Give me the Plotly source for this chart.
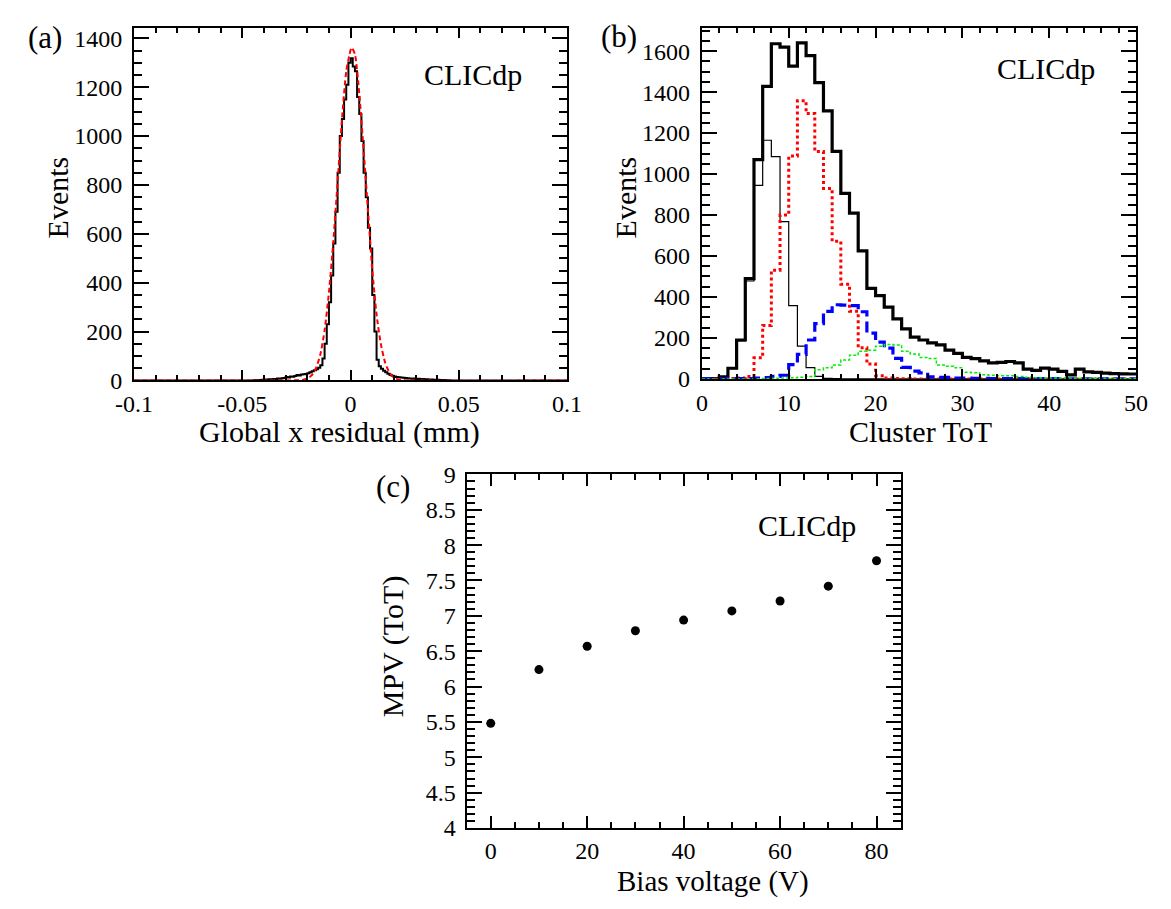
import plotly.graph_objects as go

W, H = 1171, 909
FONT = "Liberation Serif"

# ---------------- Panel (a): global x residual ----------------
res_bin_lo = -0.1
res_bin_w = 0.001
# bins k = -45 .. 45 (bin k covers [k, k+1) * 0.001 mm)
res_core = [
    1, 2, 1, 2, 3, 4, 3, 5, 4, 6,
    6, 8, 7, 9, 10, 14, 12, 16, 15, 18,
    22, 20, 24, 25, 27, 30, 34, 38, 42, 46,
    52, 62, 90, 150, 230, 320, 430, 560, 690, 850,
    1000, 1070, 1150, 1210, 1300, 1318, 1285, 1265, 1160, 1090,
    980, 850, 750, 625, 540, 350, 200, 85, 58, 48,
    40, 34, 28, 22, 19, 16, 14, 13, 12, 11,
    10, 9, 8, 7, 8, 6, 7, 5, 6, 4,
    5, 3, 4, 3, 2, 3, 2, 1, 2, 1,
    1,
]
res_counts = [0] * 55 + res_core + [0] * 54

fit_x = [-0.1, -0.024, -0.022, -0.020, -0.018, -0.016, -0.014, -0.012, -0.010,
         -0.008, -0.006, -0.004, -0.002, 0.0, 0.0005, 0.002, 0.004, 0.006, 0.008,
         0.010, 0.012, 0.014, 0.016, 0.018, 0.020, 0.022, 0.024, 0.1]
fit_y = [0, 1, 3, 8, 21, 50, 105, 205, 360,
         565, 810, 1065, 1265, 1352, 1362, 1335, 1175, 945, 700,
         455, 270, 148, 72, 32, 12, 4, 1, 0]

# ---------------- Panel (b): cluster ToT ----------------
tot_bin_lo = 0
tot_bin_w = 1
tot_all = [0, 2, 10, 52, 190, 490, 1070, 1428, 1636, 1620,
           1527, 1640, 1578, 1446, 1308, 1111, 906, 809, 625, 442,
           407, 350, 293, 244, 204, 190, 176, 166, 141, 125,
           105, 99, 88, 78, 81, 85, 78, 48, 42, 53,
           48, 37, 20, 48, 34, 32, 28, 26, 25, 24]
tot_size1 = [0, 0, 2, 50, 185, 478, 945, 1165, 1085, 768,
             358, 160, 55, 12, 3, 1, 0, 0, 0, 0,
             0, 0, 0, 0, 0, 0, 0, 0, 0, 0,
             0, 0, 0, 0, 0, 0, 0, 0, 0, 0,
             0, 0, 0, 0, 0, 0, 0, 0, 0, 0]
tot_size2 = [0, 0, 0, 2, 5, 12, 103, 261, 531, 800,
             1088, 1358, 1295, 1110, 930, 672, 462, 330, 152, 73,
             16, 5, 2, 1, 0, 0, 0, 0, 0, 0,
             0, 0, 0, 0, 0, 0, 0, 0, 0, 0,
             0, 0, 0, 0, 0, 0, 0, 0, 0, 0]
tot_size3 = [0, 0, 0, 0, 1, 2, 4, 6, 12, 18,
             70, 120, 190, 270, 330, 362, 360, 358, 328, 224,
             180, 150, 100, 56, 38, 30, 10, 8, 8, 4,
             4, 3, 3, 2, 2, 2, 1, 1, 1, 1,
             1, 0, 0, 0, 0, 0, 0, 0, 0, 0]
tot_size4 = [0, 0, 0, 0, 0, 0, 1, 2, 3, 4,
             6, 8, 12, 45, 55, 68, 92, 115, 135, 140,
             160, 168, 165, 135, 122, 105, 100, 68, 62, 55,
             32, 30, 20, 18, 15, 15, 12, 8, 6, 5,
             5, 4, 4, 3, 3, 3, 2, 2, 2, 2]

# ---------------- Panel (c): MPV vs bias ----------------
bias_v = [0, 10, 20, 30, 40, 50, 60, 70, 80]
mpv = [5.48, 6.24, 6.57, 6.79, 6.94, 7.07, 7.21, 7.42, 7.78]


def step_xy(lo, w, vals):
    xs = [lo + i * w for i in range(len(vals) + 1)]
    ys = list(vals) + [vals[-1]]
    return xs, ys


def px(x, y):
    return x / W, 1 - y / H


fig = go.Figure()

# (a)
xa, ya = step_xy(res_bin_lo, res_bin_w, res_counts)
fig.add_trace(go.Scatter(x=xa, y=ya, mode="lines", line=dict(color="black", width=2, shape="hv"),
                         xaxis="x", yaxis="y", showlegend=False))
fig.add_trace(go.Scatter(x=fit_x, y=fit_y, mode="lines",
                         line=dict(color="#ff0000", width=2, dash="5px,3px", shape="spline", smoothing=0.6),
                         xaxis="x", yaxis="y", showlegend=False))

# (b)
series_b = [
    (tot_all, dict(color="black", width=3.2)),
    (tot_size1, dict(color="black", width=1.2)),
    (tot_size2, dict(color="#ff0000", width=3, dash="3px,3px")),
    (tot_size3, dict(color="#0000ff", width=3.2, dash="11px,5px")),
    (tot_size4, dict(color="#00ee00", width=1.5, dash="3px,2px")),
]
for vals, ln in series_b:
    xb, yb = step_xy(tot_bin_lo, tot_bin_w, vals)
    ln = dict(ln, shape="hv")
    fig.add_trace(go.Scatter(x=xb, y=yb, mode="lines", line=ln, xaxis="x2", yaxis="y2", showlegend=False))

# (c)
fig.add_trace(go.Scatter(x=bias_v, y=mpv, mode="markers",
                         marker=dict(color="black", size=9, symbol="circle"),
                         xaxis="x3", yaxis="y3", showlegend=False))


def ax(domain, rng, tickvals, ticktext, minor_dtick, minor_tick0, ticklen, minorlen, anchor, standoff):
    return dict(
        domain=domain, range=rng, anchor=anchor,
        showline=True, linewidth=2, linecolor="black", mirror="allticks",
        ticks="inside", ticklen=ticklen, tickwidth=2, tickcolor="black",
        tickmode="array", tickvals=tickvals, ticktext=ticktext,
        showgrid=False, zeroline=False,
        tickfont=dict(family=FONT, size=24, color="black"),
        ticklabelstandoff=standoff,
        minor=dict(ticks="inside", ticklen=minorlen, tickwidth=2, tickcolor="black",
                   tickmode="linear", dtick=minor_dtick, tick0=minor_tick0, showgrid=False),
    )


def dom_x(l, r):
    return [l / W, r / W]


def dom_y(t, b):
    return [1 - b / H, 1 - t / H]


a_xt = [-0.1, -0.05, 0, 0.05, 0.1]
a_xl = ["-0.1", "-0.05", "0", "0.05", "0.1"]
a_yt = [0, 200, 400, 600, 800, 1000, 1200, 1400]
b_xt = [0, 10, 20, 30, 40, 50]
b_yt = [0, 200, 400, 600, 800, 1000, 1200, 1400, 1600]
c_xt = [0, 20, 40, 60, 80]
c_yt = [4, 4.5, 5, 5.5, 6, 6.5, 7, 7.5, 8, 8.5, 9]

fig.update_layout(
    width=W, height=H, margin=dict(l=0, r=0, t=0, b=0),
    paper_bgcolor="white", plot_bgcolor="white",
    xaxis=ax(dom_x(118.5, 564.5), [-0.1, 0.1], a_xt, a_xl, 0.01, -0.1, 10, 5, "y", 1),
    yaxis=ax(dom_y(15, 378.3), [0, 1444], a_yt, [str(v) for v in a_yt], 50, 0, 15, 8, "x", 5),
    xaxis2=ax(dom_x(703.3, 1150.5), [0, 50], b_xt, [str(v) for v in b_xt], 2, 0, 10, 5, "y2", 1),
    yaxis2=ax(dom_y(15, 376.7), [0, 1715], b_yt, [str(v) for v in b_yt], 50, 0, 15, 8, "x2", 5),
    xaxis3=ax(dom_x(461, 908), [-5, 85], c_xt, [str(v) for v in c_xt], 5, 0, 12, 6, "y3", 0),
    yaxis3=ax(dom_y(475, 839), [4, 9], c_yt, ["4", "4.5", "5", "5.5", "6", "6.5", "7", "7.5", "8", "8.5", "9"],
              0.1, 4, 15, 8, "x3", 4),
)

texts = [
    ("(a)", 27, 25, 31, 0),
    ("(b)", 618, 24, 31, 0),
    ("(c)", 385, 487, 31, 0),
    ("CLICdp", 468, 63, 30, 0),
    ("CLICdp", 1058, 57, 30, 0),
    ("CLICdp", 812, 528, 30, 0),
    ("Events", 40, 190, 30, -90),
    ("Events", 625, 190, 30, -90),
    ("MPV (ToT)", 386, 652, 30, -90),
    ("Global x residual (mm)", 330, 431, 30, 0),
    ("Cluster ToT", 928, 431, 30, 0),
    ("Bias voltage (V)", 715, 894, 29, 0),
]
for t, x, y, s, ang in texts:
    xp, yp = px(x, y)
    fig.add_annotation(text=t, x=xp, y=yp, xref="paper", yref="paper", showarrow=False,
                       xanchor="center", yanchor="middle", textangle=ang,
                       font=dict(family=FONT, size=s, color="black"))

fig.write_html("out.html")
